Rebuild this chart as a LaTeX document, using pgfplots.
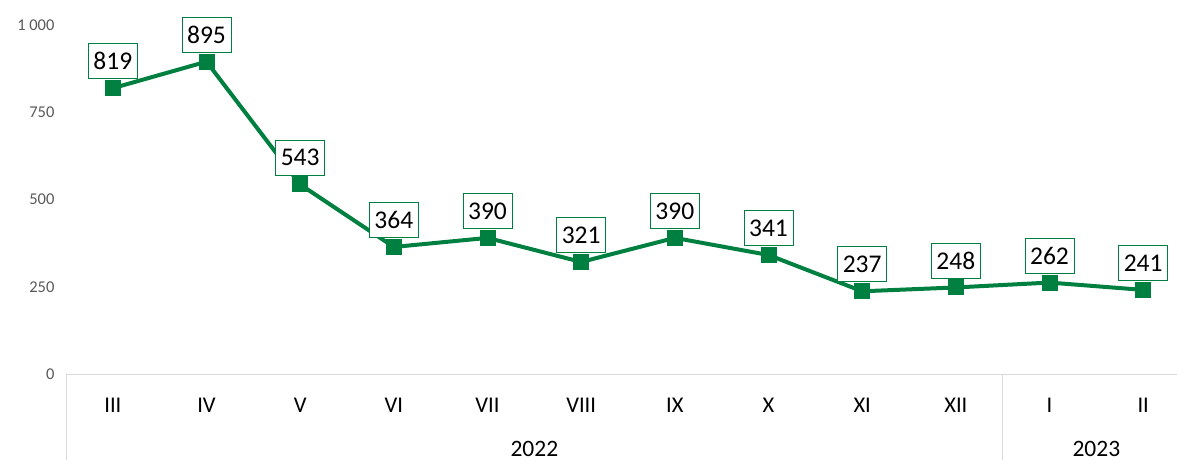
\documentclass[border=0pt]{standalone}
\usepackage{pgfplots}
\pgfplotsset{compat=1.18}
\usepackage{fontspec}
\setmainfont{Carlito}
\definecolor{lgreen}{RGB}{0,128,64}
\definecolor{tickgray}{RGB}{89,89,89}
\definecolor{axgray}{RGB}{217,217,217}
\begin{document}
\begin{tikzpicture}[x=1pt,y=1pt]
\useasboundingbox (0,0) rectangle (1177,459);
\clip (0,0) rectangle (1177,459);
\begin{axis}[
  at={(66pt,85pt)}, anchor=south west,
  scale only axis, width=1124pt, height=349pt,
  xmin=-0.5, xmax=11.5, ymin=0, ymax=1000,
  axis line style={draw=none}, clip=false,
  xtick={0,...,11}, xticklabels={III,IV,V,VI,VII,VIII,IX,X,XI,XII,I,II},
  ytick={0,250,500,750,1000}, yticklabels={0,250,500,750,1 000},
  /pgf/number format/assume math mode=true,
  xticklabel style={font=\fontsize{22.5}{24}\selectfont, anchor=center, yshift=-31pt},
  yticklabel style={font=\fontsize{16.5}{18}\selectfont, text=tickgray, anchor=east, xshift=-8pt},
  major tick length=0pt, tick style={draw=none},
  nodes near coords,
  every node near coord/.append style={font=\fontsize{25.5}{27}\selectfont, text=black, draw=lgreen, line width=0.8pt, fill=white, anchor=south, yshift=9pt, minimum width=49pt, minimum height=35pt, inner sep=2pt},
]
\draw[axgray, line width=1pt] (axis cs:-0.5,0) -- (axis cs:11.8,0);
\draw[axgray, line width=1pt] (axis cs:-0.5,0) -- ([yshift=-100pt]axis cs:-0.5,0);
\draw[axgray, line width=1pt] (axis cs:9.5,0) -- ([yshift=-100pt]axis cs:9.5,0);
\node[font=\fontsize{23.5}{25}\selectfont, inner sep=0pt, anchor=base] at ([yshift=-82pt]axis cs:4.5,0) {2022};
\node[font=\fontsize{23.5}{25}\selectfont, inner sep=0pt, anchor=base] at ([yshift=-82pt]axis cs:10.5,0) {2023};
\addplot[lgreen, line width=4pt, mark=square*, mark size=6pt, mark options={solid}] coordinates {
(0,819) (1,895) (2,543) (3,364) (4,390) (5,321) (6,390) (7,341) (8,237) (9,248) (10,262) (11,241)
};
\end{axis}
\end{tikzpicture}
\end{document}
